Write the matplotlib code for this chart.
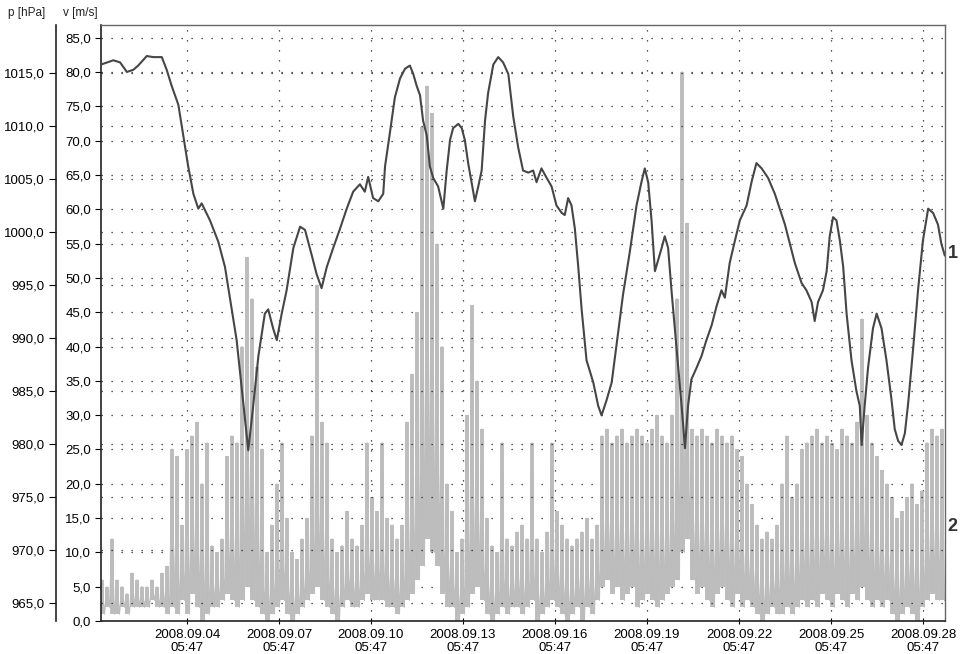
"""
Pressure (1) and wind speed (2) record, September 2008.
Two left-hand scales: p [hPa] on the outer axis, v [m/s] on the inner one.
"""
import matplotlib

matplotlib.use("Agg")
import matplotlib.dates as mdates
import matplotlib.pyplot as plt
import matplotlib.transforms as mtransforms
import numpy as np
import pandas as pd
from matplotlib.ticker import FuncFormatter

plt.rcParams["font.family"] = ["Liberation Sans", "DejaVu Sans"]

T0 = pd.Timestamp("2008-09-01 00:00")

# ---------- pressure, days after T0 / hPa ----------
p_days = [
    0.44, 0.84, 1.06, 1.28, 1.49, 1.65, 1.93, 2.14, 2.42, 2.58, 2.74, 2.96, 3.12,
    3.28, 3.45, 3.61, 3.72, 3.99, 4.26, 4.48, 4.64, 4.86, 5.02, 5.19, 5.24, 5.40,
    5.57, 5.78, 5.89, 6.05, 6.17, 6.33, 6.49, 6.71, 6.93, 7.09, 7.31, 7.47, 7.63,
    7.80, 8.01, 8.23, 8.45, 8.66, 8.88, 9.04, 9.15, 9.31, 9.48, 9.64, 9.70, 9.86,
    10.02, 10.19, 10.35, 10.51, 10.62, 10.73, 10.84, 10.94, 11.06, 11.16, 11.27,
    11.43, 11.60, 11.71, 11.82, 11.92, 12.09, 12.20, 12.30, 12.41, 12.52, 12.63,
    12.74, 12.85, 12.96, 13.06, 13.23, 13.39, 13.55, 13.72, 13.88, 14.04, 14.20,
    14.37, 14.53, 14.64, 14.80, 14.97, 15.13, 15.29, 15.46, 15.56, 15.67, 15.78,
    15.89, 16.00, 16.11, 16.27, 16.49, 16.65, 16.76, 16.92, 17.09, 17.25, 17.46,
    17.68, 17.90, 18.06, 18.17, 18.28, 18.39, 18.50, 18.61, 18.72, 18.82, 18.93,
    19.04, 19.15, 19.26, 19.37, 19.48, 19.58, 19.69, 19.86, 20.02, 20.18, 20.35,
    20.51, 20.67, 20.78, 20.94, 21.11, 21.27, 21.49, 21.65, 21.81, 21.98, 22.19,
    22.41, 22.57, 22.74, 22.90, 23.06, 23.28, 23.44, 23.61, 23.71, 23.82, 23.98,
    24.10, 24.20, 24.31, 24.42, 24.53, 24.64, 24.75, 24.91, 25.07, 25.18, 25.24,
    25.34, 25.45, 25.61, 25.73, 25.89, 26.05, 26.21, 26.32, 26.43, 26.54, 26.65,
    26.76, 26.92, 27.08, 27.24, 27.41, 27.57, 27.73, 27.84, 27.95,
]
p_hpa = [
    1015.8, 1016.2, 1016.0, 1015.1, 1015.3, 1015.7, 1016.6, 1016.5, 1016.5, 1015.3,
    1013.8, 1012.0, 1009.1, 1006.2, 1003.6, 1002.2, 1002.7, 1001.1, 999.1, 996.7,
    993.8, 989.8, 985.4, 980.7, 979.4, 983.6, 988.3, 992.3, 992.7, 990.9, 989.8,
    992.3, 994.5, 998.5, 1000.5, 1000.2, 997.8, 996.0, 994.7, 996.7, 998.5, 1000.3,
    1002.2, 1003.8, 1004.5, 1003.8, 1005.2, 1003.2, 1002.9, 1003.6, 1006.2, 1009.4,
    1012.7, 1014.5, 1015.4, 1015.7, 1014.9, 1013.8, 1012.9, 1010.5, 1009.1, 1006.2,
    1005.1, 1004.3, 1002.2, 1005.8, 1008.7, 1009.8, 1010.2, 1009.8, 1008.7, 1006.5,
    1004.7, 1002.9, 1004.3, 1005.8, 1010.5, 1013.1, 1015.8, 1016.5, 1016.0, 1014.9,
    1010.9, 1008.0, 1005.8, 1005.6, 1005.8, 1004.7, 1006.0, 1005.1, 1004.3, 1002.5,
    1001.8, 1001.6, 1003.2, 1002.5, 1000.3, 996.7, 992.7, 987.9, 985.8, 983.6,
    982.7, 984.1, 985.8, 989.4, 994.1, 998.1, 1002.5, 1004.7, 1006.0, 1004.7,
    1001.1, 996.3, 997.4, 998.5, 999.6, 998.5, 994.5, 990.9, 987.2, 983.6, 979.6,
    983.6, 986.1, 987.2, 988.3, 989.8, 991.2, 993.0, 994.5, 993.8, 997.1, 999.2,
    1001.1, 1002.5, 1004.7, 1006.5, 1006.0, 1005.1, 1003.6, 1002.2, 1000.7, 998.9,
    997.1, 995.2, 994.5, 993.4, 991.6, 993.4, 994.5, 996.3, 999.6, 1001.4, 1001.1,
    999.2, 996.7, 992.3, 987.9, 985.0, 983.6, 979.9, 983.6, 987.2, 990.9, 992.3,
    990.9, 987.9, 984.3, 981.4, 980.3, 979.9, 981.0, 983.9, 989.0, 994.5, 999.2,
    1002.2, 1001.8, 1000.7, 998.9, 997.8,
]

# ---------- wind speed, m/s: gust / lull pairs, evenly sampled ----------
wind_start = "2008-09-01 11:15"
wind_end = "2008-09-28 22:35"
wind_hi = [
    6, 5, 12, 6, 5, 4, 7, 6, 5, 5, 6, 5, 7, 8, 25, 24, 14, 25, 27, 29,
    20, 26, 11, 10, 12, 24, 27, 26, 40, 53, 47, 37, 25, 10, 14, 20, 26, 15, 10, 9,
    12, 15, 27, 49, 29, 26, 12, 10, 11, 16, 12, 11, 14, 26, 18, 16, 26, 15, 14, 12,
    14, 29, 36, 45, 72, 78, 74, 55, 40, 20, 16, 10, 12, 30, 46, 35, 28, 15, 11, 10,
    26, 12, 11, 13, 14, 12, 26, 12, 10, 13, 26, 16, 14, 12, 11, 12, 13, 15, 12, 14,
    27, 28, 26, 27, 28, 26, 27, 28, 27, 26, 28, 30, 27, 26, 30, 47, 80, 58, 28, 27,
    28, 27, 26, 28, 27, 26, 27, 25, 24, 20, 17, 14, 12, 13, 12, 14, 20, 27, 18, 20,
    25, 26, 27, 28, 26, 27, 26, 25, 28, 27, 26, 29, 44, 30, 26, 24, 22, 20, 18, 15,
    16, 18, 20, 17, 19, 26, 28, 27, 28,
]
wind_lo = [
    1, 2, 1, 1, 2, 1, 2, 2, 2, 2, 3, 2, 2, 1, 2, 1, 3, 1, 4, 2,
    0, 1, 2, 2, 3, 4, 3, 2, 3, 5, 3, 2, 1, 0, 1, 2, 3, 1, 0, 1,
    2, 3, 4, 5, 3, 2, 1, 0, 2, 3, 2, 2, 3, 4, 3, 3, 3, 2, 2, 1,
    2, 3, 4, 6, 8, 12, 10, 8, 4, 2, 2, 0, 1, 2, 4, 5, 3, 1, 0, 1,
    2, 1, 2, 2, 1, 2, 3, 0, 1, 2, 3, 2, 1, 0, 1, 2, 0, 2, 1, 3,
    5, 6, 4, 5, 3, 4, 5, 2, 3, 4, 3, 2, 3, 4, 5, 6, 10, 12, 6, 4,
    5, 3, 2, 4, 5, 3, 2, 4, 2, 3, 2, 1, 0, 1, 2, 1, 1, 2, 1, 2,
    3, 2, 3, 2, 4, 3, 2, 4, 3, 2, 4, 3, 5, 3, 2, 3, 2, 3, 1, 0,
    1, 2, 1, 0, 2, 3, 4, 3, 3,
]

tick_first = "2008-09-04 05:47"
tick_count = 9
p_ticks = np.arange(965, 1016, 5)
v_ticks = np.arange(0, 86, 5)

# ---------- build series ----------
p_time = T0 + pd.to_timedelta(p_days, unit="D")
wind = np.column_stack([wind_hi, wind_lo]).ravel()
w_time = pd.date_range(wind_start, wind_end, periods=len(wind))
w_col_time = w_time[::2]

comma = FuncFormatter(lambda v, _: f"{v:.1f}".replace(".", ","))
dots = dict(color="#222222", linestyle=(0, (1, 7)), linewidth=0.9)
WIND_GREY = "#bcbcbc"

fig = plt.figure(figsize=(9.6, 6.54), dpi=100)
ax = fig.add_axes([0.1052, 0.0505, 0.8792, 0.9113])
ax2 = ax.twinx()

# wind on the inner v-axis: gust-to-lull spread per sample, plus the trace itself
ax.vlines(w_col_time, wind_lo, wind_hi, color=WIND_GREY, linewidth=2.8, zorder=2)
ax.plot(w_time, wind, color=WIND_GREY, linewidth=0.8, zorder=2)
ax.set_ylim(0, 86.88)
ax.set_yticks(v_ticks)
ax.yaxis.set_major_formatter(comma)
ax.tick_params(axis="y", direction="out", length=4, width=0.8, labelsize=9.5, pad=3)

ax.set_xlim(T0 + pd.Timedelta(days=0.437), T0 + pd.Timedelta(days=27.96))
ax.set_xticks(pd.date_range(tick_first, periods=tick_count, freq="3D"))
ax.xaxis.set_major_formatter(mdates.DateFormatter("%Y.%m.%d\n%H:%M"))
ax.tick_params(axis="x", direction="inout", length=5, width=0.8, labelsize=9.5, pad=3)
for lab in ax.get_xticklabels():
    lab.set_horizontalalignment("center")
    lab.set_multialignment("center")
ax.grid(True, **dots)
ax.set_axisbelow(True)

for side in ["left", "bottom"]:
    ax.spines[side].set_color("#222222")
    ax.spines[side].set_linewidth(1.2)
for side in ["top", "right"]:
    ax.spines[side].set_color("#666666")
    ax.spines[side].set_linewidth(1.0)

# pressure on the outer p-axis
ax2.plot(p_time, p_hpa, color="#464646", linewidth=1.5, zorder=3)
ax2.set_ylim(963.30, 1019.53)
ax2.set_yticks(p_ticks)
ax2.yaxis.set_major_formatter(comma)
ax2.yaxis.tick_left()
ax2.spines["left"].set_visible(True)
ax2.spines["left"].set_position(("axes", -0.0534))
ax2.spines["left"].set_color("#222222")
ax2.spines["left"].set_linewidth(1.2)
for side in ["right", "top", "bottom"]:
    ax2.spines[side].set_visible(False)
ax2.tick_params(axis="y", direction="out", length=5, width=0.8, labelsize=9.5, pad=3)
ax2.grid(True, axis="y", **dots)

# curve numbers at the right edge
edge_p = mtransforms.blended_transform_factory(ax2.transAxes, ax2.transData)
edge_v = mtransforms.blended_transform_factory(ax.transAxes, ax.transData)
ax2.text(1.003, p_hpa[-1] + 0.2, "1", transform=edge_p, ha="left", va="center",
         fontsize=13, fontweight="bold", color="#333333")
ax.text(1.003, 13.7, "2", transform=edge_v, ha="left", va="center",
        fontsize=13, fontweight="bold", color="#333333")

# axis headers
fig.text(8 / 960, 1 - 13 / 654, "p [hPa]", fontsize=8.5, va="center", ha="left", color="#222222")
fig.text(63 / 960, 1 - 13 / 654, "v [m/s]", fontsize=8.5, va="center", ha="left", color="#222222")

fig.savefig("out.png", dpi=100)
